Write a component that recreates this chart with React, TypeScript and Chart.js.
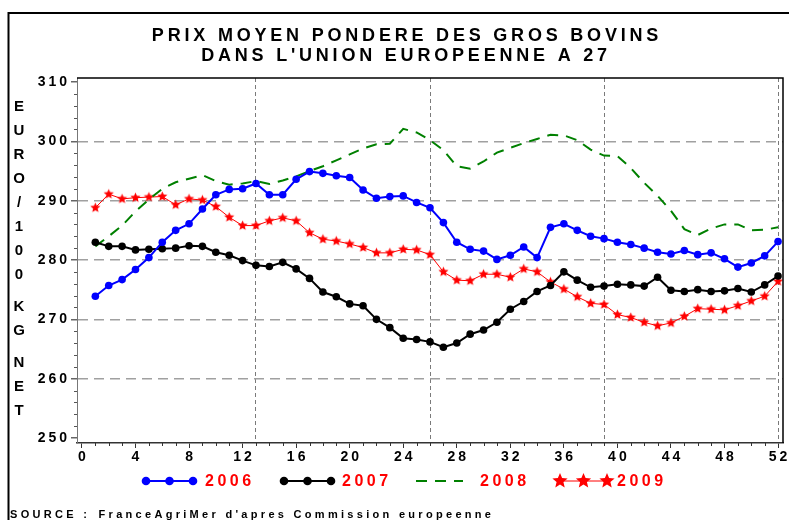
import React, { useEffect, useRef } from 'react';
import { Chart, registerables } from 'chart.js';

Chart.register(...registerables);

const weeks = [1, 2, 3, 4, 5, 6, 7, 8, 9, 10, 11, 12, 13, 14, 15, 16, 17, 18, 19, 20, 21, 22, 23, 24, 25, 26,
  27, 28, 29, 30, 31, 32, 33, 34, 35, 36, 37, 38, 39, 40, 41, 42, 43, 44, 45, 46, 47, 48, 49, 50, 51, 52];

const prix2006 = [273.9, 275.7, 276.7, 278.4, 280.4, 283.0, 285.0, 286.1, 288.6, 291.0, 291.9, 292.0, 292.9,
  291.0, 291.0, 293.6, 294.9, 294.6, 294.2, 293.9, 291.8, 290.4, 290.7, 290.8, 289.7, 288.8,
  286.3, 283.0, 281.8, 281.5, 280.1, 280.8, 282.2, 280.4, 285.5, 286.1, 285.0, 284.0, 283.6,
  283.0, 282.6, 282.0, 281.3, 281.0, 281.6, 280.9, 281.2, 280.2, 278.8, 279.5, 280.7, 283.1];

const prix2007 = [283.0, 282.3, 282.3, 281.7, 281.8, 281.9, 282.0, 282.4, 282.3, 281.3, 280.8, 279.9, 279.1,
  278.9, 279.6, 278.5, 276.9, 274.6, 273.8, 272.6, 272.3, 270.0, 268.6, 266.8, 266.6, 266.2,
  265.3, 266.0, 267.5, 268.2, 269.5, 271.7, 273.0, 274.7, 275.7, 278.0, 276.6, 275.4, 275.6,
  275.9, 275.8, 275.6, 277.1, 274.9, 274.7, 275.0, 274.7, 274.8, 275.2, 274.6, 275.8, 277.3];

const prix2008 = [282.3, 284.0, 285.8, 288.2, 290.2, 292.0, 293.1, 293.7, 294.3, 293.3, 292.7, 292.9, 293.3,
  292.8, 293.4, 294.1, 295.0, 295.8, 296.8, 297.8, 298.8, 299.5, 299.6, 302.1, 301.5, 300.2,
  298.5, 295.8, 295.4, 296.6, 298.1, 298.9, 299.7, 300.4, 301.1, 301.0, 300.2, 298.6, 297.6,
  297.5, 295.5, 293.0, 290.8, 288.3, 285.2, 284.2, 285.3, 286.0, 286.0, 285.0, 285.1, 285.5];

const prix2009 = [288.8, 291.1, 290.3, 290.5, 290.6, 290.7, 289.3, 290.3, 290.1, 289.0, 287.2, 285.8, 285.8,
  286.6, 287.1, 286.6, 284.6, 283.5, 283.2, 282.7, 282.1, 281.2, 281.2, 281.8, 281.7, 280.9,
  278.0, 276.6, 276.5, 277.6, 277.6, 277.1, 278.5, 278.0, 276.3, 275.1, 273.8, 272.7, 272.5,
  270.8, 270.3, 269.5, 268.9, 269.4, 270.5, 271.8, 271.7, 271.6, 272.3, 273.1, 273.9, 276.4];

const seriesLabels = ['2006', '2007', '2008', '2009'];
const xTickLabels = [0, 4, 8, 12, 16, 20, 24, 28, 32, 36, 40, 44, 48, 52];
const xRefLines = [13, 26, 39, 52];
const yTickLabels = [250, 260, 270, 280, 290, 300, 310];
const yGridLines = [260, 270, 280, 290, 300];

const titleLines = ['PRIX MOYEN PONDERE DES GROS BOVINS', "DANS L'UNION EUROPEENNE A 27"];
const yTitle = 'EURO/100 KG NET';
const sourceBold = 'SOURCE :';
const sourceText = "FranceAgriMer d'apres Commission europeenne";

const FONT = '"Liberation Sans", Arial, sans-serif';
const BLUE = '#0000ff';
const BLACK = '#000000';
const GREEN = '#008000';
const RED = '#ff0000';
const GREEN_DASH = [11, 8];

function makeStar(r: number, color: string): HTMLCanvasElement {
  const size = Math.ceil(r * 2 + 2);
  const c = document.createElement('canvas');
  c.width = size;
  c.height = size;
  const g = c.getContext('2d')!;
  g.fillStyle = color;
  g.beginPath();
  for (let i = 0; i < 10; i++) {
    const a = -Math.PI / 2 + (i * Math.PI) / 5;
    const rr = i % 2 === 0 ? r : r * 0.45;
    const px = size / 2 + rr * Math.cos(a);
    const py = size / 2 + rr * Math.sin(a);
    if (i === 0) g.moveTo(px, py);
    else g.lineTo(px, py);
  }
  g.closePath();
  g.fill();
  return c;
}

function drawStarAt(ctx: CanvasRenderingContext2D, cx: number, cy: number, r: number, color: string) {
  ctx.fillStyle = color;
  ctx.beginPath();
  for (let i = 0; i < 10; i++) {
    const a = -Math.PI / 2 + (i * Math.PI) / 5;
    const rr = i % 2 === 0 ? r : r * 0.45;
    const px = cx + rr * Math.cos(a);
    const py = cy + rr * Math.sin(a);
    if (i === 0) ctx.moveTo(px, py);
    else ctx.lineTo(px, py);
  }
  ctx.closePath();
  ctx.fill();
}

const decorPlugin = {
  id: 'decor',
  beforeDraw(chart: any) {
    const ctx = chart.ctx as CanvasRenderingContext2D;
    ctx.save();
    ctx.fillStyle = '#ffffff';
    ctx.fillRect(0, 0, chart.width, chart.height);
    ctx.restore();
    (ctx as any).letterSpacing = '3px';
  },
  afterDraw(chart: any) {
    const ctx = chart.ctx as CanvasRenderingContext2D;
    const area = chart.chartArea;
    const xs = chart.scales.x;
    const ys = chart.scales.y;
    ctx.save();

    // frame
    ctx.strokeStyle = '#000';
    ctx.lineWidth = 2;
    ctx.beginPath();
    ctx.moveTo(8.5, chart.height + 5);
    ctx.lineTo(8.5, 13);
    ctx.lineTo(chart.width + 5, 13);
    ctx.stroke();

    // top and right border of plot
    ctx.lineWidth = 1.5;
    ctx.beginPath();
    ctx.moveTo(area.left, area.top);
    ctx.lineTo(area.right, area.top);
    ctx.lineTo(area.right, area.bottom);
    ctx.stroke();

    // minor ticks
    ctx.lineWidth = 1;
    ctx.strokeStyle = '#555';
    ctx.beginPath();
    for (let v = 252; v < 310; v += 2) {
      if (v % 10 === 0) continue;
      const py = Math.round(ys.getPixelForValue(v)) + 0.5;
      ctx.moveTo(area.left - 3, py);
      ctx.lineTo(area.left, py);
    }
    ctx.stroke();
    ctx.strokeStyle = '#333';
    ctx.beginPath();
    for (let w = 1; w < 52; w++) {
      if (w % 4 === 0) continue;
      const px = Math.round(xs.getPixelForValue(w)) + 0.5;
      ctx.moveTo(px, area.bottom);
      ctx.lineTo(px, area.bottom + 3);
    }
    ctx.stroke();

    // title
    ctx.fillStyle = '#000';
    ctx.font = `bold 18px ${FONT}`;
    (ctx as any).letterSpacing = '3.8px';
    ctx.textAlign = 'center';
    ctx.textBaseline = 'middle';
    ctx.fillText(titleLines[0], 407, 36);
    ctx.fillText(titleLines[1], 406, 56);

    // vertical y title
    ctx.font = `bold 15px ${FONT}`;
    (ctx as any).letterSpacing = '0px';
    let ty = 107;
    for (const ch of yTitle) {
      if (ch === ' ') {
        ty += 8;
        continue;
      }
      ctx.fillText(ch, 19, ty);
      ty += 24;
    }

    // legend
    const ly = 481;
    const slots = [146, 284, 416, 560];
    const textX = [205, 342, 480, 617];
    const ds = chart.data.datasets;
    for (let i = 0; i < 4; i++) {
      const x0 = slots[i];
      const x1 = x0 + 47;
      const d = ds[i];
      ctx.save();
      ctx.strokeStyle = d.borderColor;
      ctx.lineWidth = d.borderWidth;
      if (d.borderDash) ctx.setLineDash(d.borderDash);
      ctx.beginPath();
      ctx.moveTo(x0, ly);
      ctx.lineTo(x1, ly);
      ctx.stroke();
      ctx.restore();
      const marks = [x0, (x0 + x1) / 2, x1];
      if (i === 0 || i === 1) {
        ctx.fillStyle = d.borderColor;
        for (const mx of marks) {
          ctx.beginPath();
          ctx.arc(mx, ly, 4.3, 0, Math.PI * 2);
          ctx.fill();
        }
      } else if (i === 3) {
        for (const mx of marks) drawStarAt(ctx, mx, ly, 8, RED);
      }
      ctx.fillStyle = RED;
      ctx.font = `bold 16px ${FONT}`;
      (ctx as any).letterSpacing = '3.5px';
      ctx.textAlign = 'left';
      ctx.fillText(seriesLabels[i], textX[i], ly + 1);
    }

    // source
    ctx.fillStyle = '#000';
    ctx.textAlign = 'left';
    ctx.font = `bold 11px ${FONT}`;
    (ctx as any).letterSpacing = '3.3px';
    ctx.fillText(sourceBold, 10, 515);
    const w = ctx.measureText(sourceBold + ' ').width;
    ctx.fillText(sourceText, 10 + w + 2, 515);

    ctx.restore();
    (ctx as any).letterSpacing = '0px';
  },
};

export default function App() {
  const ref = useRef<HTMLCanvasElement>(null);
  useEffect(() => {
    const canvas = ref.current!;
    const star = makeStar(5.3, RED);
    const toPts = (vals: number[]) => weeks.map((w, i) => ({ x: w, y: vals[i] }));
    const chart = new Chart(canvas, {
      type: 'line',
      data: {
        datasets: [
          {
            label: seriesLabels[0], data: toPts(prix2006), borderColor: BLUE, backgroundColor: BLUE,
            borderWidth: 2, pointRadius: 3.8, pointBorderWidth: 0, pointBackgroundColor: BLUE, tension: 0,
          },
          {
            label: seriesLabels[1], data: toPts(prix2007), borderColor: BLACK, backgroundColor: BLACK,
            borderWidth: 2, pointRadius: 3.8, pointBorderWidth: 0, pointBackgroundColor: BLACK, tension: 0,
          },
          {
            label: seriesLabels[2], data: toPts(prix2008), borderColor: GREEN, backgroundColor: GREEN,
            borderWidth: 2, borderDash: GREEN_DASH, pointRadius: 0, tension: 0,
          },
          {
            label: seriesLabels[3], data: toPts(prix2009), borderColor: RED, backgroundColor: RED,
            borderWidth: 1, pointStyle: star as any, pointRadius: 5, tension: 0,
          },
        ] as any,
      },
      options: {
        animation: false,
        responsive: false,
        devicePixelRatio: 1,
        events: [],
        layout: { padding: { top: 78, left: 0, right: 1, bottom: 47 } },
        plugins: { legend: { display: false }, title: { display: false }, tooltip: { enabled: false } },
        scales: {
          x: {
            type: 'linear',
            min: -0.37,
            max: 52.37,
            afterBuildTicks: (s: any) => {
              const vals = [...xTickLabels, ...xRefLines.filter((v) => !xTickLabels.includes(v))].sort((a, b) => a - b);
              s.ticks = vals.map((v) => ({ value: v }));
            },
            afterFit: (s: any) => {
              s.height = 30;
              s.paddingLeft = 0;
              s.paddingRight = 0;
            },
            ticks: {
              autoSkip: false,
              maxRotation: 0,
              padding: 1,
              labelOffset: 1.5,
              color: '#000',
              font: { family: FONT, size: 14, weight: 'bold' },
              callback: (v: any) => (xTickLabels.includes(Number(v)) ? String(v) : ''),
            },
            grid: {
              color: (c: any) => (c.tick && xRefLines.includes(c.tick.value) ? '#7a7a7a' : 'rgba(0,0,0,0)'),
              tickColor: (c: any) => (c.tick && xTickLabels.includes(c.tick.value) ? '#333' : 'rgba(0,0,0,0)'),
              lineWidth: 1,
              tickLength: 5,
            },
            border: { display: true, color: '#333', width: 1.5, dash: [4, 3] },
          } as any,
          y: {
            type: 'linear',
            min: 249.16,
            max: 310.67,
            afterBuildTicks: (s: any) => {
              s.ticks = yTickLabels.map((v) => ({ value: v }));
            },
            afterFit: (s: any) => {
              s.width = 77;
              s.paddingTop = 0;
              s.paddingBottom = 0;
            },
            ticks: {
              padding: 1,
              color: '#000',
              font: { family: FONT, size: 14, weight: 'bold' },
              callback: (v: any) => String(v),
            },
            grid: {
              color: (c: any) => (c.tick && yGridLines.includes(c.tick.value) ? '#a0a0a0' : 'rgba(0,0,0,0)'),
              tickColor: '#666',
              lineWidth: 1.5,
              tickLength: 6,
            },
            border: { display: true, color: '#777', width: 1, dash: [10, 6] },
          } as any,
        },
      },
      plugins: [decorPlugin],
    });
    return () => chart.destroy();
  }, []);
  return (
    <div style={{ position: 'fixed', left: 0, top: 0, width: 789, height: 520, background: '#fff', overflow: 'hidden' }}>
      <canvas ref={ref} width={789} height={520} style={{ display: 'block', width: 789, height: 520 }} />
    </div>
  );
}
